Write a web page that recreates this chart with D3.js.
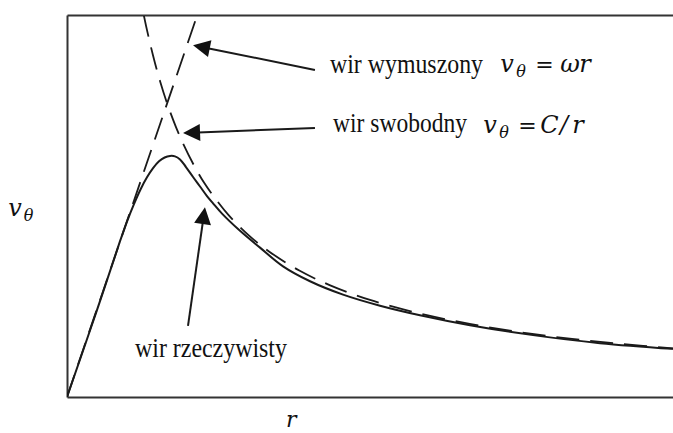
<!DOCTYPE html>
<html>
<head>
<meta charset="utf-8">
<script src="https://cdn.jsdelivr.net/npm/d3@7"></script>
<style>
  html, body { margin: 0; padding: 0; background: #fff; }
  svg { display: block; }
  .lbl { font-family: "Liberation Serif", "Times New Roman", serif; fill: #111; }
  .math { font-family: "DejaVu Serif", "Liberation Serif", serif; font-style: italic; fill: #111; }
</style>
</head>
<body>
<svg id="chart" width="673" height="433"></svg>
<script>
// Forced vortex (v = ωr): straight line through the origin
const forcedR = [0, 1.29];
const forcedV = [0, 10.0];

// Free vortex (v = C/r)
const freeR = [0.70, 0.76, 0.85, 0.92, 1.0, 1.08, 1.15, 1.25, 1.35, 1.45, 1.6, 1.8, 2.0, 2.3, 2.6, 3.0, 3.5, 4.0, 4.5, 5.0, 5.5, 6.0];
const freeV = [10.9, 10.0, 8.96, 8.28, 7.62, 7.06, 6.63, 6.10, 5.64, 5.26, 4.76, 4.23, 3.81, 3.31, 2.93, 2.54, 2.18, 1.91, 1.69, 1.52, 1.39, 1.27];

// Real vortex profile: rigid core, rounded peak, free-vortex tail
const realR = [0, 0.30, 0.525, 0.595, 0.663, 0.729, 0.792, 0.852, 0.911, 0.967, 1.020, 1.069, 1.119, 1.178, 1.248, 1.317, 1.386, 1.446, 1.535, 1.713, 1.911, 2.139, 2.406, 2.733, 3.099, 3.495, 3.990, 4.614, 5.277, 6.0];
const realV = [0, 2.30, 4.08, 4.60, 5.05, 5.44, 5.75, 5.99, 6.17, 6.27, 6.31, 6.30, 6.22, 6.02, 5.76, 5.51, 5.26, 5.07, 4.80, 4.35, 3.91, 3.42, 3.03, 2.68, 2.39, 2.14, 1.88, 1.62, 1.41, 1.26];

// Annotations: label text, its anchor, arrow tail and tip in data units
const annoText  = ["wir wymuszony", "wir swobodny", "wir rzeczywisty"];
const annoTextR = [2.604, 2.634, 0.673];
const annoTextV = [8.48, 6.94, 1.05];
const annoWidth = [153, 134, 152];
const arrowTailR = [2.455, 2.455, 1.198];
const arrowTailV = [8.56, 7.04, 1.86];
const arrowTipR  = [1.248, 1.149, 1.366];
const arrowTipV  = [9.21, 6.91, 4.97];

// Formula anchors in data units
const formulaR = [4.287, 4.119];
const formulaV = [8.51, 6.90];

const svg = d3.select("#chart");
const mLeft = 67, mTop = 15, mRight = 673, mBottom = 397;

const x = d3.scaleLinear().domain([0, 6]).range([mLeft, mRight]);
const y = d3.scaleLinear().domain([0, 10]).range([mBottom, mTop]);

// frame: left, bottom and top edges
const frameColor = "#333";
svg.append("g").attr("transform", `translate(0,${mBottom})`)
  .call(d3.axisBottom(x).tickValues([]).tickSizeOuter(0))
  .call(g => g.select(".domain").attr("stroke", frameColor).attr("stroke-width", 2));
svg.append("g").attr("transform", `translate(0,${mTop})`)
  .call(d3.axisTop(x).tickValues([]).tickSizeOuter(0))
  .call(g => g.select(".domain").attr("stroke", frameColor).attr("stroke-width", 2));
svg.append("g").attr("transform", `translate(${mLeft},0)`)
  .call(d3.axisLeft(y).tickValues([]).tickSizeOuter(0))
  .call(g => g.select(".domain").attr("stroke", frameColor).attr("stroke-width", 2));

svg.append("clipPath").attr("id", "plot-clip")
  .append("rect").attr("x", mLeft).attr("y", mTop + 1).attr("width", mRight - mLeft + 2).attr("height", mBottom - mTop - 1);

const plot = svg.append("g").attr("clip-path", "url(#plot-clip)");

const zip = (rs, vs) => rs.map((r, i) => [r, vs[i]]);
const line = d3.line().x(d => x(d[0])).y(d => y(d[1]));
const smooth = d3.line().x(d => x(d[0])).y(d => y(d[1])).curve(d3.curveCatmullRom.alpha(0.5));

plot.append("path").datum(zip(forcedR, forcedV))
  .attr("d", line).attr("fill", "none").attr("stroke", "#1a1a1a")
  .attr("stroke-width", 1.8).attr("stroke-dasharray", "23,11");

plot.append("path").datum(zip(freeR, freeV))
  .attr("d", smooth).attr("fill", "none").attr("stroke", "#1a1a1a")
  .attr("stroke-width", 1.8).attr("stroke-dasharray", "23,11");

plot.append("path").datum(zip(realR, realV))
  .attr("d", smooth).attr("fill", "none").attr("stroke", "#1a1a1a")
  .attr("stroke-width", 2).attr("stroke-linejoin", "round");

// arrows with filled triangular heads, and their labels
const headLen = 17, headHalf = 8.5;
annoText.forEach((t, i) => {
  const x0 = x(arrowTailR[i]), y0 = y(arrowTailV[i]);
  const x1 = x(arrowTipR[i]), y1 = y(arrowTipV[i]);
  const dx = x1 - x0, dy = y1 - y0, len = Math.hypot(dx, dy);
  const ux = dx / len, uy = dy / len;
  const bx = x1 - ux * headLen, by = y1 - uy * headLen;
  svg.append("line")
    .attr("x1", x0).attr("y1", y0).attr("x2", bx + ux * 2).attr("y2", by + uy * 2)
    .attr("stroke", "#1a1a1a").attr("stroke-width", 2);
  svg.append("path")
    .attr("d", `M${x1},${y1}L${bx - uy * headHalf},${by + ux * headHalf}L${bx + uy * headHalf},${by - ux * headHalf}Z`)
    .attr("fill", "#111");
  svg.append("text").attr("class", "lbl")
    .attr("transform", `translate(${x(annoTextR[i])},${y(annoTextV[i])}) scale(1,1.1)`)
    .attr("font-size", 24)
    .attr("textLength", annoWidth[i]).attr("lengthAdjust", "spacingAndGlyphs")
    .text(t);
});

// formula as one text element; each glyph centred at its own offset
function formula(px, py, size, parts) {
  const t = svg.append("text").attr("class", "math")
    .attr("transform", `translate(${px},${py})`)
    .attr("text-anchor", "middle").attr("font-size", size);
  parts.forEach(p => {
    t.append("tspan")
      .attr("x", p.cx).attr("y", p.dy || 0)
      .attr("font-size", p.size || size)
      .attr("font-style", p.upright ? "normal" : "italic")
      .text(p.t);
  });
}
formula(x(formulaR[0]), y(formulaV[0]), 24, [
  {t: "v", cx: 7}, {t: "θ", cx: 21, dy: 5, size: 16},
  {t: "=", cx: 44.5, upright: true, size: 22}, {t: "ω", cx: 70}, {t: "r", cx: 85}
]);
formula(x(formulaR[1]), y(formulaV[1]), 24, [
  {t: "v", cx: 7}, {t: "θ", cx: 21, dy: 5, size: 16},
  {t: "=", cx: 44.5, upright: true, size: 22}, {t: "C", cx: 66.5}, {t: "/", cx: 81}, {t: "r", cx: 95}
]);

// axis titles
formula(8, 216, 24, [{t: "v", cx: 7}, {t: "θ", cx: 20.5, dy: 5, size: 16}]);
formula(x(2.17), 427, 22, [{t: "r", cx: 5}]);
</script>
</body>
</html>
